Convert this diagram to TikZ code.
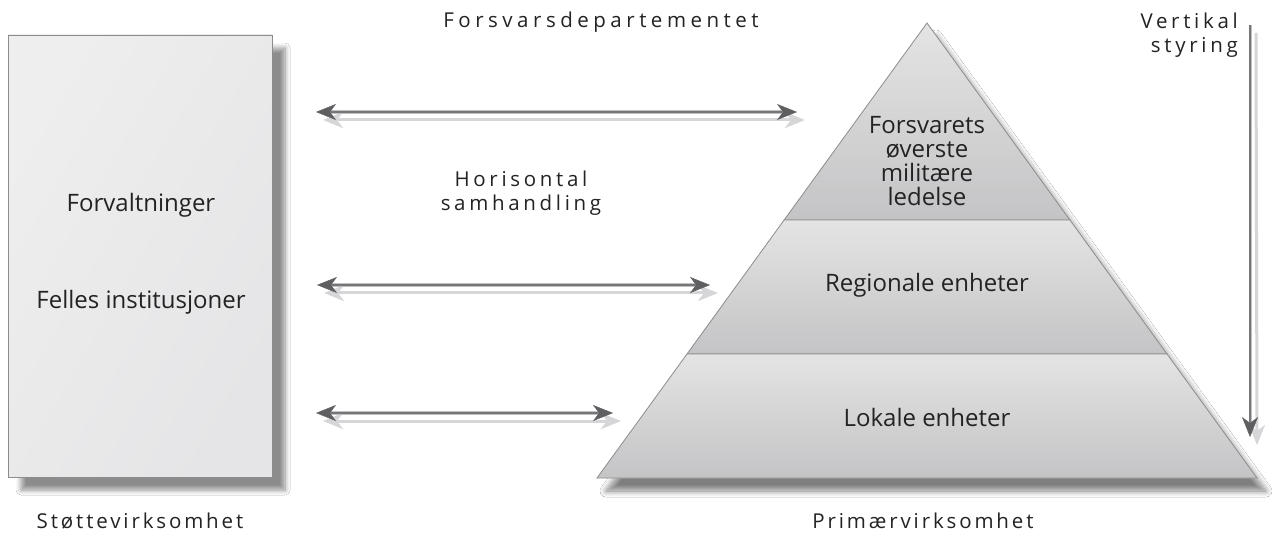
\documentclass[tikz,border=0pt]{standalone}
\usepackage{fontspec}
\setmainfont{Open Sans}
\newfontfamily\spacedfont[LetterSpace=18,Ligatures=NoCommon]{Open Sans}
\newfontfamily\widefont[LetterSpace=22,Ligatures=NoCommon]{Open Sans}
\newfontfamily\narrowfont[LetterSpace=14,Ligatures=NoCommon]{Open Sans}
\usetikzlibrary{arrows.meta,shadows.blur,calc}
\definecolor{boxfill}{RGB}{229,229,231}
\definecolor{boxlight}{RGB}{238,238,238}
\definecolor{edgegray}{RGB}{140,140,142}
\definecolor{pyrtop}{RGB}{228,228,228}
\definecolor{pyrbot}{RGB}{196,196,198}
\definecolor{txt}{RGB}{35,35,35}
\definecolor{shaftlight}{RGB}{192,192,194}
\definecolor{shaftdark}{RGB}{118,118,120}
\definecolor{headdark}{RGB}{95,95,97}
\definecolor{ghost}{RGB}{214,214,216}
\tikzset{
  x=1pt, y=-1pt,
  inner/.style={font=\fontsize{24}{24}\selectfont, text=txt, align=center, inner sep=0},
  outer/.style={font=\fontsize{20.5}{24}\spacedfont, text=txt, align=center, inner sep=0},
  ghostarrow/.style={line width=3pt, draw=ghost, {Stealth[length=20pt,width=16pt,inset=6pt,color=ghost,fill=ghost]}-{Stealth[length=20pt,width=16pt,inset=6pt,color=ghost,fill=ghost]}},
  mainarrow/.style={line width=4pt, draw=shaftlight, {Stealth[length=20pt,width=16pt,inset=6pt,fill=headdark,color=headdark,line width=0.5pt]}-{Stealth[length=20pt,width=16pt,inset=6pt,fill=headdark,color=headdark,line width=0.5pt]}},
  mainline/.style={line width=1.3pt, draw=shaftdark, shorten <=14pt, shorten >=14pt},
  section/.style={top color=pyrtop, bottom color=pyrbot, draw=edgegray, line width=0.8pt},
}
\begin{document}
\begin{tikzpicture}
\useasboundingbox[fill=white] (0,0) rectangle (1273,534);

% left box
\node[draw=edgegray, line width=0.8pt, minimum width=264pt, minimum height=442pt, inner sep=0,
  left color=boxlight, right color=boxfill, shading angle=60,
  blur shadow={shadow xshift=13pt, shadow yshift=-13pt, shadow blur radius=5pt, shadow blur steps=8, shadow opacity=45}] (box) at (140,256) {};
\node[inner] (forv) at (141,205) {Forvaltninger};
\node[inner] (felles) at (141,302) {Felles institusjoner};
\node[outer, font=\fontsize{20.5}{24}\narrowfont] (stotte) at (140,521) {Støttevirksomhet};

% pyramid
\coordinate (apex) at (927,23);
\coordinate (bl) at (597,478);
\coordinate (br) at (1257,478);
\coordinate (l1) at (784.1,220);
\coordinate (r1) at (1069.9,220);
\coordinate (l2) at (687,354);
\coordinate (r2) at (1167,354);
\path[fill=white, blur shadow={shadow xshift=9pt, shadow yshift=-13pt, shadow blur radius=6pt, shadow blur steps=10, shadow opacity=50}] (apex) -- (br) -- (bl) -- cycle;
\path[section] (apex) -- (r1) -- (l1) -- cycle;
\path[section] (l1) -- (r1) -- (r2) -- (l2) -- cycle;
\path[section] (l2) -- (r2) -- (br) -- (bl) -- cycle;
\node[inner] (top) at (927,161) {Forsvarets\\øverste\\militære\\ledelse};
\node[inner] (reg) at (927,285) {Regionale enheter};
\node[inner] (lok) at (927,417) {Lokale enheter};
\node[outer, font=\fontsize{20.5}{24}\narrowfont] (prim) at (923,521) {Primærvirksomhet};

% titles
\node[outer, font=\fontsize{20.5}{24}\widefont] (fd) at (601,22) {Forsvarsdepartementet};
\node[outer] (hor) at (521,193) {Horisontal\\samhandling};
\node[outer, align=right, anchor=north east] (vert) at (1238,13) {Vertikal\\styring};

% horizontal arrows
\coordinate (a1l) at (316,112); \coordinate (a1r) at (797,112);
\coordinate (a2l) at (317,285); \coordinate (a2r) at (710,285);
\coordinate (a3l) at (316,413); \coordinate (a3r) at (613,413);
\foreach \l/\r in {a1l/a1r, a2l/a2r, a3l/a3r}{
  \draw[ghostarrow] ($(\l)+(7,8)$) -- ($(\r)+(8,8)$);
  \draw[mainarrow] (\l) -- (\r);
  \draw[mainline] (\l) -- (\r);
}

% vertical arrow
\coordinate (v1) at (1250,25); \coordinate (v2) at (1250,437);
\draw[line width=3pt, draw=ghost, -{Stealth[length=20pt,width=16pt,inset=6pt,color=ghost,fill=ghost]}] ($(v1)+(6,8)$) -- ($(v2)+(7,8)$);
\draw[line width=3pt, draw=shaftlight, -{Stealth[length=20pt,width=16pt,inset=6pt,fill=headdark,color=headdark,line width=0.5pt]}] (v1) -- (v2);
\draw[line width=1.2pt, draw=shaftdark, shorten >=14pt] (v1) -- (v2);
\end{tikzpicture}
\end{document}
